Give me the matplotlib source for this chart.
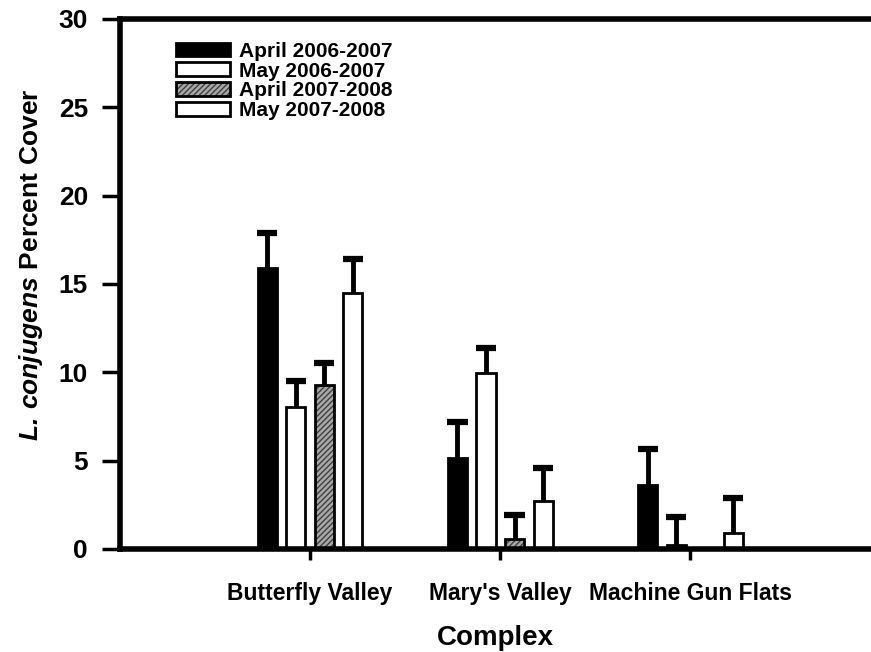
import matplotlib
matplotlib.use("Agg")
import matplotlib.pyplot as plt
import numpy as np

plt.rcParams['font.family'] = ['Liberation Sans', 'DejaVu Sans']
plt.rcParams['font.weight'] = 'bold'
plt.rcParams['mathtext.fontset'] = 'custom'
plt.rcParams['mathtext.rm'] = 'Liberation Sans:bold'
plt.rcParams['mathtext.bf'] = 'Liberation Sans:bold'
plt.rcParams['mathtext.it'] = 'Liberation Sans:italic:bold'
plt.rcParams['mathtext.bfit'] = 'Liberation Sans:italic:bold'
plt.rcParams['mathtext.sf'] = 'Liberation Sans:bold'
plt.rcParams['hatch.linewidth'] = 1.0

categories = ["Butterfly Valley", "Mary's Valley", "Machine Gun Flats"]
series_names = ["April 2006-2007", "May 2006-2007", "April 2007-2008", "May 2007-2008"]
apr_0607 = [15.9, 5.15, 3.6]
may_0607 = [8.05, 9.95, 0.25]
apr_0708 = [9.3, 0.57, 0.0]
may_0708 = [14.5, 2.7, 0.9]
err_apr_0607 = [2.0, 2.05, 2.05]
err_may_0607 = [1.45, 1.45, 1.55]
err_apr_0708 = [1.2, 1.35, 0.0]
err_may_0708 = [1.9, 1.9, 2.0]

values = [apr_0607, may_0607, apr_0708, may_0708]
errors = [err_apr_0607, err_may_0607, err_apr_0708, err_may_0708]
faces = ['black', 'white', '#a8a8a8', 'white']
hatches = [None, None, '//////', None]

fig = plt.figure(figsize=(8.71, 6.52), dpi=100)
ax = fig.add_axes([0.1378, 0.158, 0.8622, 0.813])

x = np.arange(len(categories))
width = 0.1
step = 0.15
offsets = [-1.5 * step, -0.5 * step, 0.5 * step, 1.5 * step]
cap_half = 0.053

handles = []
for i in range(4):
    xs = x + offsets[i]
    v = np.array(values[i])
    e = np.array(errors[i])
    keep = (v > 0) | (e > 0)
    if hatches[i]:
        fill = ax.bar(xs[keep], v[keep], width=width, color=faces[i],
                      edgecolor='#404040', linewidth=0, hatch=hatches[i], zorder=2)
        outline = ax.bar(xs[keep], v[keep], width=width, fill=False,
                         edgecolor='black', linewidth=2, zorder=2.5)
        handles.append((fill, outline))
    else:
        b = ax.bar(xs[keep], v[keep], width=width, color=faces[i],
                   edgecolor='black', linewidth=2, zorder=2)
        handles.append(b)
    ax.vlines(xs[keep], v[keep], v[keep] + e[keep], colors='black',
              linewidth=3.5, zorder=3)
    ax.hlines(v[keep] + e[keep], xs[keep] - cap_half, xs[keep] + cap_half,
              colors='black', linewidth=4.5, zorder=3)

ax.set_xlim(-1.0, 2.95)
ax.set_ylim(0, 30)
ax.set_yticks([0, 5, 10, 15, 20, 25, 30])
ax.set_xticks(x)
ax.set_xticklabels(categories, fontsize=16.5, fontweight='bold')
ax.tick_params(axis='y', labelsize=19, width=2.5, length=13, direction='out', pad=10)
ax.tick_params(axis='x', width=2.5, length=8, direction='out', pad=16)
for lab in ax.get_yticklabels():
    lab.set_fontweight('bold')

for side in ['left', 'bottom', 'top']:
    ax.spines[side].set_linewidth(4)
ax.spines['right'].set_visible(False)

ax.set_xlabel('Complex', fontsize=20, fontweight='bold', labelpad=14)
ax.set_ylabel(r'$\mathbfit{L.}\,\mathbfit{conjugens}\ \mathbf{Percent\ Cover}$',
              fontsize=19)
ax.yaxis.set_label_coords(-0.1, 0.536)

leg = ax.legend(handles, series_names, loc='upper left',
                bbox_to_anchor=(0.074, 0.957), frameon=False,
                handlelength=2.6, handleheight=0.62, labelspacing=0.04,
                handletextpad=0.45, borderpad=0, borderaxespad=0,
                prop={'weight': 'bold', 'size': 15})

fig.savefig('out.png', dpi=100)
